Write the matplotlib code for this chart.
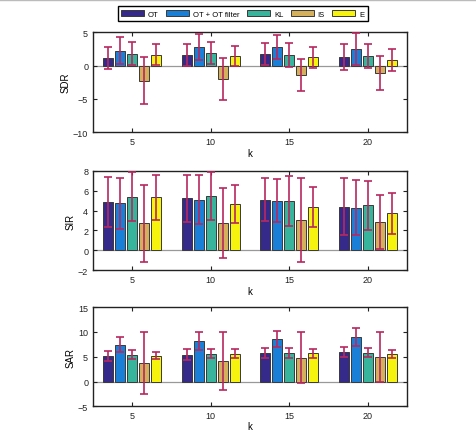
import numpy as np
import matplotlib
matplotlib.use("Agg")
import matplotlib.pyplot as plt
from matplotlib.lines import Line2D

plt.rcParams['font.family'] = ['Liberation Sans', 'DejaVu Sans']

K       = [5, 10, 15, 20]
METHODS = ["OT", "OT + OT filter", "KL", "IS", "E"]
COLORS  = ["#35298a", "#1a7fd6", "#37b49b", "#d4b05c", "#f6f30e"]
ERRCOL  = "#b8285f"

# mean values per method (rows) and k (cols)
sdr_mean = [[1.17, 1.62, 1.73, 1.27],
            [2.23, 2.79, 2.84, 2.49],
            [1.78, 1.88, 1.57, 1.37],
            [-2.27, -1.98, -1.42, -1.12],
            [1.62, 1.42, 1.27, 0.86]]
sdr_std  = [[1.65, 1.62, 1.60, 1.96],
            [2.00, 1.98, 1.80, 2.34],
            [1.68, 1.67, 1.78, 1.80],
            [3.53, 3.15, 2.38, 2.51],
            [1.60, 1.50, 1.58, 1.62]]

sir_mean = [[4.86, 5.24, 5.10, 4.39],
            [4.73, 5.10, 5.00, 4.29],
            [5.42, 5.47, 4.93, 4.53],
            [2.72, 2.74, 3.04, 2.84],
            [5.36, 4.66, 4.36, 3.75]]
sir_std  = [[2.55, 2.40, 2.16, 2.87],
            [2.57, 2.48, 2.15, 2.75],
            [2.47, 2.42, 2.53, 2.47],
            [3.87, 3.50, 4.27, 2.70],
            [2.26, 1.95, 2.03, 2.06]]

sar_mean = [[5.08, 5.44, 5.70, 5.97],
            [7.45, 8.19, 8.52, 8.99],
            [5.44, 5.64, 5.70, 5.77],
            [3.75, 4.16, 4.77, 4.97],
            [5.23, 5.57, 5.70, 5.57]]
sar_std  = [[1.04, 1.17, 0.97, 1.04],
            [1.50, 1.78, 1.60, 1.78],
            [0.97, 0.90, 1.00, 0.90],
            [6.20, 5.93, 5.13, 5.07],
            [0.77, 0.90, 0.90, 0.84]]

PANELS = [("SDR", sdr_mean, sdr_std, (-10, 5), [-10, -5, 0, 5]),
          ("SIR", sir_mean, sir_std, (-2, 8), [-2, 0, 2, 4, 6, 8]),
          ("SAR", sar_mean, sar_std, (-5, 15), [-5, 0, 5, 10, 15])]

AX_POS = [[0.195, 0.691, 0.658, 0.232],
          [0.195, 0.371, 0.658, 0.230],
          [0.195, 0.055, 0.658, 0.230]]

fig = plt.figure(figsize=(4.77, 4.31), dpi=100)
fig.add_artist(Line2D([0, 1], [0.998, 0.998], color="#bbbbbb", lw=1.0))

offs = np.array([-2, -1, 0, 1, 2]) * 0.766
bw = 0.64
kx = np.array(K, dtype=float)

handles = []
for n, ((name, mean, std, ylim, yticks), pos) in enumerate(zip(PANELS, AX_POS)):
    ax = fig.add_axes(pos)
    ax.axhline(0, color="#999999", lw=0.9, zorder=1)
    for i in range(len(METHODS)):
        b = ax.bar(kx + offs[i], mean[i], width=bw, color=COLORS[i],
                   edgecolor="#3a3a3a", linewidth=0.7, zorder=2)
        ax.errorbar(kx + offs[i], mean[i], yerr=std[i], fmt="none",
                    ecolor=ERRCOL, elinewidth=1.2, capsize=3.2,
                    capthick=1.2, zorder=3)
        if name == "SDR":
            handles.append(b)
    ax.set_xlim(2.5, 22.5)
    ax.set_ylim(*ylim)
    ax.set_xticks(K)
    ax.set_yticks(yticks)
    ax.tick_params(direction="in", top=True, right=True, length=3,
                   width=0.8, labelsize=6.5, colors="#222222")
    for s in ax.spines.values():
        s.set_linewidth(1.0)
        s.set_color("#222222")
    ax.set_ylabel(name, fontsize=7, labelpad=1.5)
    ax.set_xlabel("k", fontsize=7, labelpad=0.3 if n == 2 else 1.5)

leg = fig.legend(handles, METHODS, loc="center", ncol=5,
                 bbox_to_anchor=(0.509, 0.966), fontsize=5.5,
                 handlelength=3.0, handleheight=0.9, handletextpad=0.5,
                 columnspacing=1.0, borderpad=0.45, fancybox=False,
                 edgecolor="black", framealpha=1)
leg.get_frame().set_linewidth(1.0)

fig.savefig("out.png", dpi=100)
